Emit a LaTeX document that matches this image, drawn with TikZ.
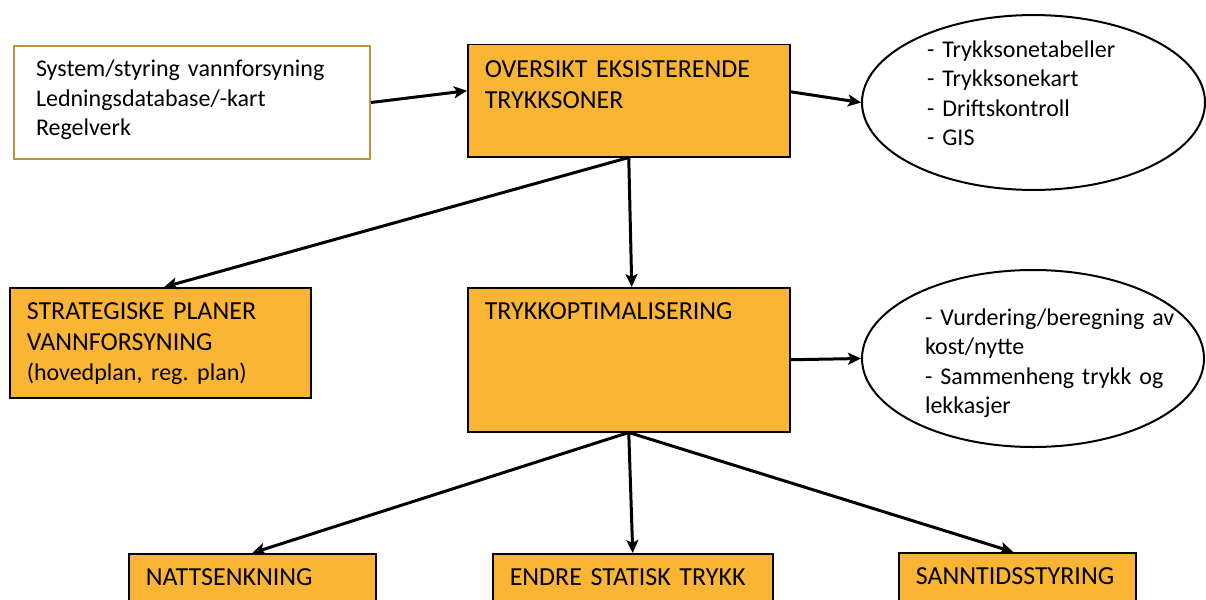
\documentclass[tikz,border=0pt]{standalone}
\usepackage{fontspec}
\setmainfont{Carlito}
\usetikzlibrary{arrows.meta,shapes.geometric}
\definecolor{oransje}{RGB}{251,181,53}
\definecolor{gullkant}{RGB}{196,146,60}
\frenchspacing

\begin{document}
\begin{tikzpicture}[
	>={Stealth[length=13pt,width=12pt,inset=3pt]},
	line width=3pt,
	x=1pt,y=-1pt,
	font=\fontsize{24}{29.5}\selectfont,
	boks/.style={draw=black, line width=1.5pt, fill=oransje, anchor=north west,
		inner xsep=17pt, inner ysep=0pt, align=left, text height=32pt,
		font=\fontsize{26}{30.5}\selectfont},
	boble/.style={draw=black, line width=2pt, ellipse, inner sep=0pt, align=left}
	]
	% frame
\useasboundingbox (0,0) rectangle (1206,599);
\clip (0,0) rectangle (1206,599);

			% boxes
			\node[boks, draw=gullkant, fill=white, line width=2pt, inner xsep=22pt, text width=312pt, text height=31pt, text depth=82pt, font=\fontsize{24}{29.5}\selectfont] (kilde_system) at (13, 45) {System/styring vannforsyning\\Ledningsdatabase/-kart\\Regelverk};
			\node[boks, text width=288pt, text height=33pt, text depth=79pt] (oversikt_trykksoner) at (467, 44) {OVERSIKT EKSISTERENDE\\TRYKKSONER};
			\node[boks, text width=267pt, text depth=78pt] (strategiske_planer) at (9, 287) {STRATEGISKE PLANER\\VANNFORSYNING\\\fontsize{24}{31}\selectfont (hovedplan, reg. plan)};
			\node[boks, text width=288pt, text depth=112pt] (trykkoptimalisering) at (467, 287) {TRYKKOPTIMALISERING};
			\node[boks, text width=213pt, text depth=60pt] (nattsenkning) at (128, 553) {NATTSENKNING};
			\node[boks, text width=246pt, text depth=60pt] (endre_statisk) at (492, 553) {ENDRE STATISK TRYKK};
			\node[boks, text width=203pt, text depth=60pt] (sanntidsstyring) at (898, 552) {SANNTIDSSTYRING};

			% ellipses
			\node[boble, minimum width=343pt, minimum height=169pt, text width=213pt, text depth=107pt] (ell_trykksoner) at (1033.5, 102.5) {- Trykksonetabeller\\- Trykksonekart\\- Driftskontroll\\- GIS};
			\node[boble, minimum width=342pt, minimum height=177pt, text width=216pt, text height=26pt] (ell_kost_nytte) at (1033, 358.5) {\mbox{- Vurdering/beregning av}\\kost/nytte\\\mbox{- Sammenheng trykk og}\\lekkasjer};

			% arrows
			\draw[->] (kilde_system.east) -- ([yshift=10pt]oversikt_trykksoner.west);
			\draw[->] ([yshift=9pt]oversikt_trykksoner.east) -- (ell_trykksoner.west);
			\draw[->] (oversikt_trykksoner.south) -- ([xshift=3pt]trykkoptimalisering.north);
			\draw[->] (oversikt_trykksoner.south) -- ([xshift=4pt]strategiske_planer.north);
			\draw[->] (trykkoptimalisering.east) -- (ell_kost_nytte.west);
			\draw[->] (trykkoptimalisering.south) -- (nattsenkning.north);
			\draw[->] (trykkoptimalisering.south) -- (endre_statisk.north);
			\draw[->] (trykkoptimalisering.south) -- ([xshift=-4pt]sanntidsstyring.north);

\end{tikzpicture}
\end{document}
